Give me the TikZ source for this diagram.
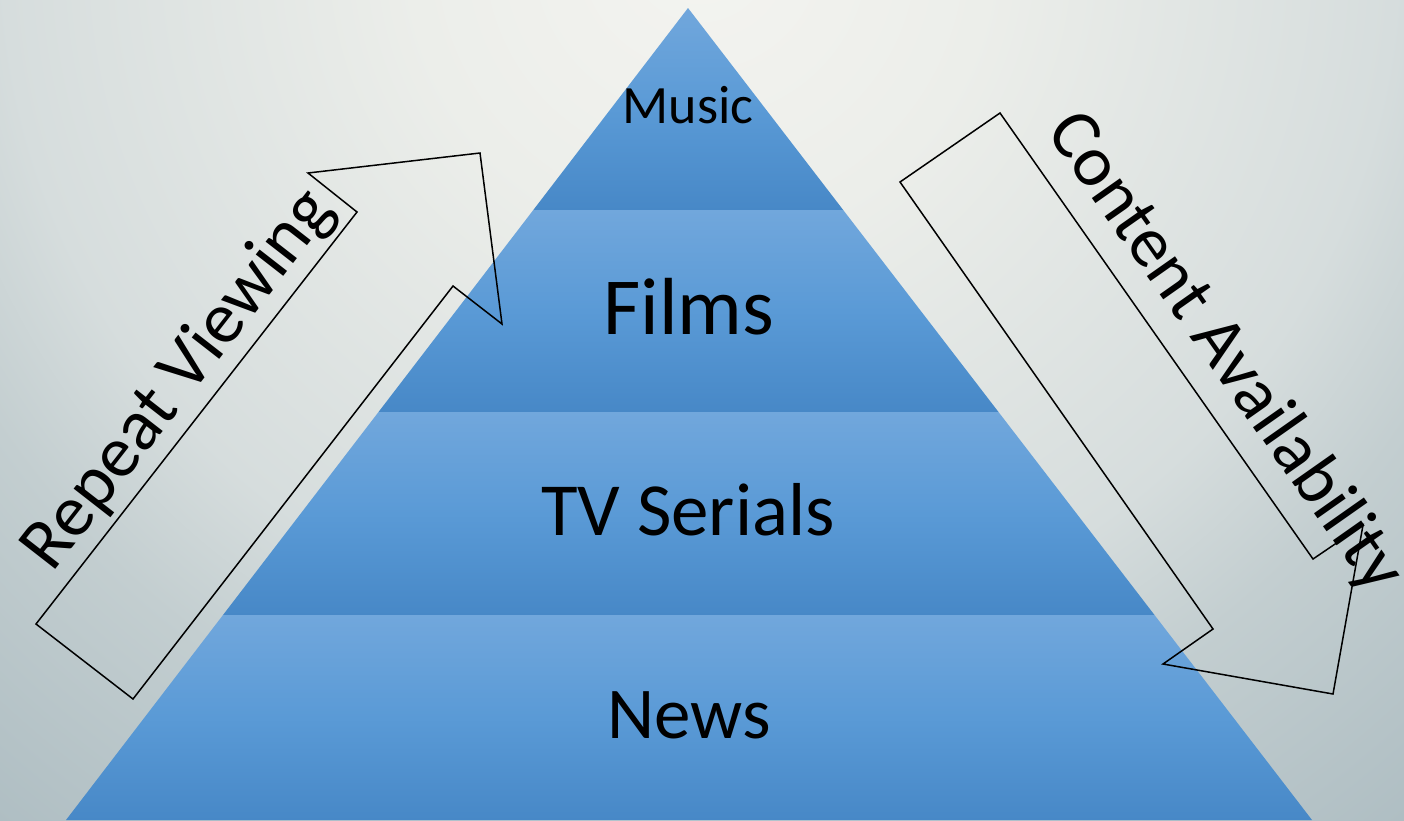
\documentclass[tikz,border=0pt]{standalone}
\usepackage{fontspec}
\setmainfont{Carlito}
\definecolor{bgA}{HTML}{F4F4F0}
\definecolor{bgB}{HTML}{ECEEEA}
\definecolor{bgC}{HTML}{D6DDDD}
\definecolor{bgD}{HTML}{C3CED0}
\definecolor{bgE}{HTML}{AFBEC3}
\definecolor{bandTop}{HTML}{71A7DC}
\definecolor{bandMid}{HTML}{5A9AD6}
\definecolor{bandBot}{HTML}{4788C7}
\pgfdeclareradialshading{bgshade}{\pgfpoint{0bp}{0bp}}{color(0bp)=(bgA); color(6bp)=(bgB); color(14.5bp)=(bgC); color(17.7bp)=(bgD); color(23.3bp)=(bgE); color(50bp)=(bgE)}
\begin{document}
\begin{tikzpicture}[x=1pt,y=-1pt,
  band/.style={top color=bandTop, bottom color=bandBot, middle color=bandMid, draw=none},
  bigarrow/.style={draw=black, line width=1.5pt, line join=miter},
  lvl/.style={anchor=base, text=black, inner sep=0pt},
  side/.style={anchor=base, text=black, inner sep=0pt, font=\fontsize{73}{90}\selectfont}]
\useasboundingbox (0,0) rectangle (1404,820);
\begin{scope}
\clip (0,0) rectangle (1404,820);
\shade[shading=bgshade] (-500,-1250) rectangle (1900,1150);
% pyramid bands
\shade[band] (688,8) -- (843.2,210) -- (533.3,210) -- cycle;
\shade[band] (533.3,210) -- (843.2,210) -- (998.5,412) -- (378.5,412) -- cycle;
\shade[band] (378.5,412) -- (998.5,412) -- (1154.5,615) -- (223,615) -- cycle;
\shade[band] (223,615) -- (1154.5,615) -- (1312,820) -- (66,820) -- cycle;
\end{scope}
% level labels
\node[lvl, font=\fontsize{54}{60}\selectfont] (music) at (688,123) {Music};
\node[lvl, font=\fontsize{81}{90}\selectfont] (films) at (689,334) {Films};
\node[lvl, font=\fontsize{75}{90}\selectfont] (tv) at (688,535) {TV Serials};
\node[lvl, font=\fontsize{73}{90}\selectfont] (news) at (689,738) {News};
% block arrows
\draw[bigarrow] (36,624) -- (133,699) -- (453,286) -- (502,324) -- (480,153) -- (308,173) -- (357,212) -- cycle;
\draw[bigarrow] (900,182) -- (1000,113) -- (1313,559) -- (1363,525) -- (1333,694) -- (1163,664) -- (1213,629) -- cycle;
% arrow labels
\node[side, rotate=52.1] (rv) at (194,392) {Repeat Viewing};
\node[side, rotate=-54.9, font=\fontsize{72}{90}\selectfont] (ca) at (1209,364) {Content Availability};
\end{tikzpicture}
\end{document}
